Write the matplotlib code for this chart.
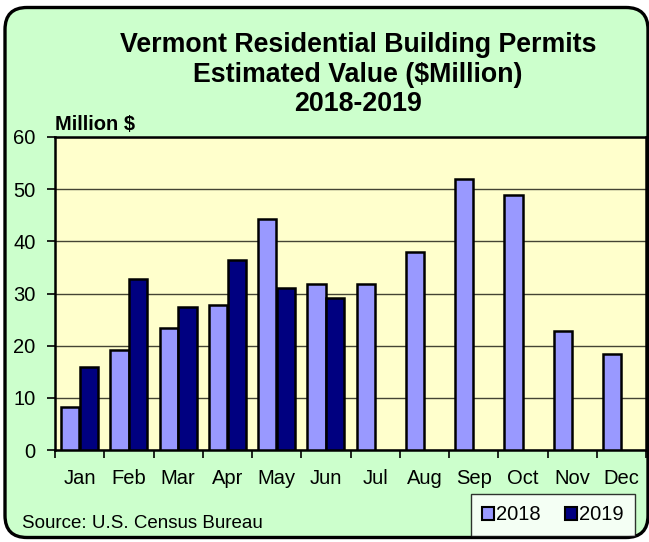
import matplotlib
matplotlib.use("Agg")
import matplotlib.pyplot as plt
from matplotlib.patches import FancyBboxPatch, Patch
import numpy as np

plt.rcParams['font.family'] = ['Liberation Sans', 'DejaVu Sans']

months = ["Jan", "Feb", "Mar", "Apr", "May", "Jun", "Jul", "Aug", "Sep", "Oct", "Nov", "Dec"]
values_2018 = [8.2, 19.1, 23.4, 27.8, 44.3, 31.8, 31.8, 37.9, 52.0, 48.8, 22.8, 18.4]
values_2019 = [16.0, 32.8, 27.4, 36.4, 31.0, 29.2]
series_labels = ["2018", "2019"]
yticks = [0, 10, 20, 30, 40, 50, 60]

W, H = 649, 542
fig = plt.figure(figsize=(W / 100, H / 100), dpi=100)
fig.patch.set_facecolor("white")

# outer rounded border
border = FancyBboxPatch((0.05, 0.045), 6.43, 5.30,
                        boxstyle="round,pad=0,rounding_size=0.22",
                        transform=fig.dpi_scale_trans,
                        facecolor="#CCFFCC", edgecolor="black", linewidth=2.4,
                        zorder=0)
fig.add_artist(border)

ax = fig.add_axes([55 / W, 1 - 450 / H, 591 / W, (450 - 137) / H])
ax.set_facecolor("#FFFFCC")
ax.set_zorder(1)

x = np.arange(len(months))
w = 0.37
ax.bar(x[:len(values_2018)] - 0.19, values_2018, width=w, color="#9999FF",
       edgecolor="black", linewidth=1.8, zorder=3, label=series_labels[0])
ax.bar(x[:len(values_2019)] + 0.19, values_2019, width=w, color="#000080",
       edgecolor="black", linewidth=1.8, zorder=3, label=series_labels[1])

ax.set_xlim(-0.5, len(months) - 0.5)
ax.set_ylim(0, 60)
ax.set_yticks(yticks)
ax.set_yticklabels([str(v) for v in yticks], fontsize=14.5)
ax.yaxis.grid(True, color="#444433", linewidth=1.0, zorder=1)
ax.set_axisbelow(True)

ax.set_xticks(x)
ax.set_xticklabels(months, fontsize=14.5)
ax.set_xticks(np.arange(-0.5, len(months) + 0.5, 1), minor=True)
ax.tick_params(axis='x', which='major', length=0, pad=14)
ax.tick_params(axis='x', which='minor', length=6, width=1.2, direction='out')
ax.tick_params(axis='y', length=6, width=1.2, direction='out', pad=8)

for s in ax.spines.values():
    s.set_linewidth(1.8)
    s.set_color("black")

fig.text(358 / W, 1 - 52 / H, "Vermont Residential Building Permits",
         ha="center", va="baseline", fontsize=19.3, fontweight="bold")
fig.text(358 / W, 1 - 82 / H, "Estimated Value ($Million)",
         ha="center", va="baseline", fontsize=19.3, fontweight="bold")
fig.text(358 / W, 1 - 111 / H, "2018-2019",
         ha="center", va="baseline", fontsize=19.3, fontweight="bold")
fig.text(55 / W, 1 - 130 / H, "Million $", ha="left", va="baseline",
         fontsize=14.5, fontweight="bold")
fig.text(22 / W, 1 - 528 / H, "Source: U.S. Census Bureau", ha="left",
         va="baseline", fontsize=13.5)

handles = [Patch(facecolor="#9999FF", edgecolor="black", linewidth=1.5),
           Patch(facecolor="#000080", edgecolor="black", linewidth=1.5)]
leg = fig.legend(handles, series_labels, loc="center",
                 bbox_to_anchor=(553 / W, 1 - 515 / H), ncol=2, fontsize=14.5,
                 frameon=True, fancybox=False, handlelength=0.6, handleheight=0.6,
                 handletextpad=0.1, columnspacing=1.2, borderpad=0.55,
                 borderaxespad=0)
leg.get_frame().set_edgecolor("black")
leg.get_frame().set_linewidth(1.0)
leg.get_frame().set_facecolor("white")

fig.savefig("out.png", dpi=100, facecolor=fig.get_facecolor())
